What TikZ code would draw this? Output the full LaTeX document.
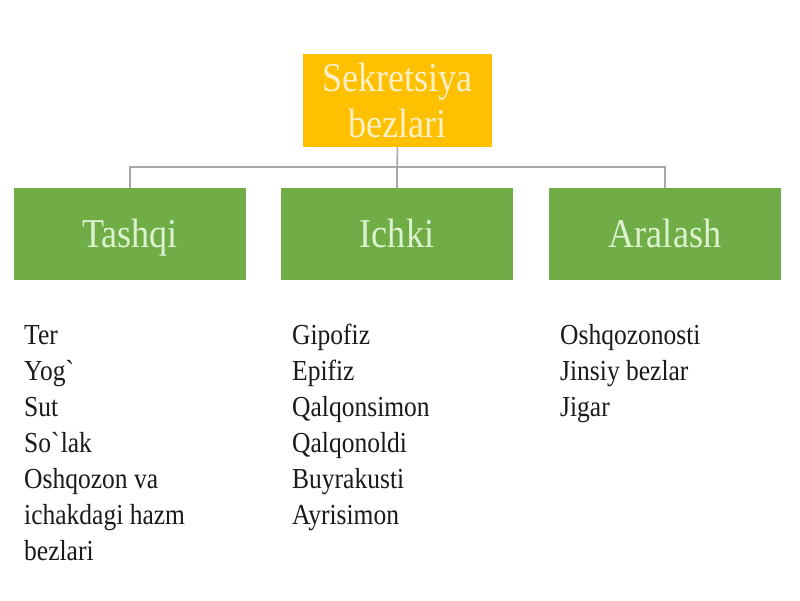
\documentclass[tikz,border=0pt]{standalone}
\usepackage{fontspec}
\setmainfont[FakeStretch=0.88]{Liberation Serif}
\definecolor{orangebox}{HTML}{FFC000}
\definecolor{greenbox}{HTML}{70AD47}
\definecolor{paleyellow}{HTML}{FCF0C8}
\definecolor{palegreen}{HTML}{DDF3CF}
\definecolor{connline}{HTML}{A8A8A8}
\definecolor{itemtext}{HTML}{1A1A1A}
\tikzset{
  topbox/.style={fill=orangebox, draw=none, minimum width=189pt, minimum height=93pt, inner sep=0pt, align=center, text=paleyellow, font=\fontsize{41}{46}\selectfont},
  catbox/.style={fill=greenbox, draw=none, minimum width=232pt, minimum height=92pt, inner sep=0pt, text height=28pt, text depth=1pt, text=palegreen, font=\fontsize{41}{46}\selectfont},
  conn/.style={draw=connline, line width=1.5pt},
  item/.style={anchor=base west, inner sep=0pt, text=itemtext, font=\fontsize{29}{36}\selectfont}
}
\begin{document}
\begin{tikzpicture}[x=1pt,y=-1pt]
\useasboundingbox[fill=white] (0,0) rectangle (800,600);
\node[topbox] (top) at (397.5,100.5) {Sekretsiya\\bezlari};
\node[catbox] (tashqi) at (130,234) {Tashqi};
\node[catbox] (ichki) at (397,234) {Ichki};
\node[catbox] (aralash) at (665,234) {Aralash};
\coordinate (bus) at (397,167);
\draw[conn] (top.south) -- (bus);
\draw[conn] (bus) -- (ichki.north);
\draw[conn] (tashqi.north) |- (bus) -| (aralash.north);
\foreach \t [count=\i] in {Ter, Yog\textasciigrave, Sut, So\textasciigrave lak, Oshqozon va, ichakdagi hazm, bezlari}
  \node[item] (a\i) at (24,{344+36*(\i-1)}) {\t};
\foreach \t [count=\i] in {Gipofiz, Epifiz, Qalqonsimon, Qalqonoldi, Buyrakusti, Ayrisimon}
  \node[item] (b\i) at (292,{344+36*(\i-1)}) {\t};
\foreach \t [count=\i] in {Oshqozonosti, Jinsiy bezlar, Jigar}
  \node[item] (c\i) at (560,{344+36*(\i-1)}) {\t};
\end{tikzpicture}
\end{document}
